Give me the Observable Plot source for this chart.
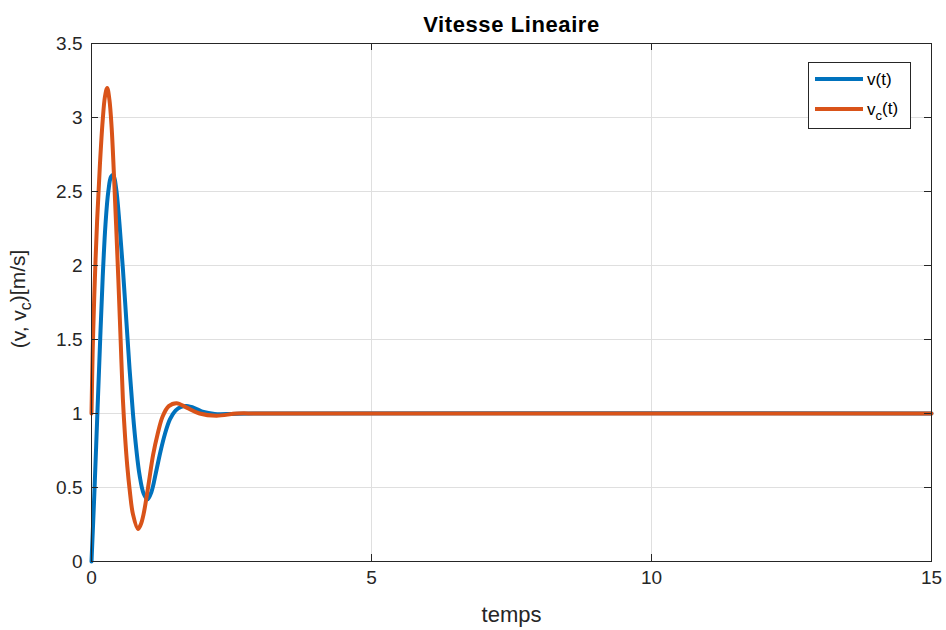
<!DOCTYPE html>
<html><head><meta charset="utf-8">
<script src="https://cdn.jsdelivr.net/npm/d3@7"></script>
<script src="https://cdn.jsdelivr.net/npm/@observablehq/plot@0.6"></script>
<style>body{margin:0;background:#fff;} svg{display:block}</style>
</head><body><div id="chart"></div>
<script>
const title = "Vitesse Lineaire";
const xLabel = "temps";
const xTicks = [0, 5, 10, 15];
const yTicks = [0, 0.5, 1, 1.5, 2, 2.5, 3, 3.5];

// v(t)
const tV = [0, 0.05, 0.10, 0.15, 0.20, 0.25, 0.30, 0.35, 0.39, 0.44, 0.50, 0.56, 0.62, 0.68, 0.74, 0.80, 0.86, 0.93, 1.00, 1.07, 1.15, 1.23, 1.31, 1.40, 1.50, 1.60, 1.70, 1.85, 2.00, 2.20, 2.50, 2.90, 15];
const vV = [0, 0.45, 0.95, 1.45, 1.92, 2.28, 2.50, 2.60, 2.61, 2.52, 2.28, 1.98, 1.64, 1.30, 1.00, 0.76, 0.58, 0.46, 0.42, 0.47, 0.60, 0.74, 0.86, 0.96, 1.02, 1.045, 1.05, 1.035, 1.01, 0.997, 0.997, 1.00, 1.00];

// vc(t)
const tVc = [0, 0.02, 0.05, 0.10, 0.15, 0.20, 0.24, 0.28, 0.32, 0.36, 0.40, 0.44, 0.48, 0.52, 0.56, 0.60, 0.64, 0.68, 0.74, 0.83, 0.88, 0.93, 1.01, 1.10, 1.18, 1.27, 1.38, 1.52, 1.70, 1.93, 2.23, 2.60, 3.00, 15];
const vVc = [1.00, 1.40, 1.80, 2.30, 2.68, 2.98, 3.14, 3.20, 3.12, 2.93, 2.62, 2.27, 1.90, 1.50, 1.10, 0.84, 0.64, 0.49, 0.32, 0.22, 0.25, 0.32, 0.50, 0.72, 0.86, 0.98, 1.05, 1.07, 1.04, 1.00, 0.985, 1.00, 1.00, 1.00];

const seriesBase = ["v", "v"];
const seriesSub = ["", "c"];
const seriesRest = ["(t)", "(t)"];
const colors = ["#0072BD", "#D95319"];

const rowsV = tV.map((t, i) => ({t, v: vV[i]}));
const rowsVc = tVc.map((t, i) => ({t, v: vVc[i]}));

const W = 946, H = 630, mL = 91, mR = 15, mT = 43, mB = 69;
const fw = W - mL - mR, fh = H - mT - mB, tk = 7;
const axisColor = "#262626";
const font = "'Liberation Sans', Arial, Helvetica, sans-serif";

const svg = Plot.plot({
  width: W, height: H,
  marginLeft: mL, marginRight: mR, marginTop: mT, marginBottom: mB,
  style: {fontFamily: font, fontSize: "19px", color: axisColor, background: "#fff"},
  x: {domain: [0, 15]},
  y: {domain: [0, 3.5]},
  marks: [
    Plot.gridX(xTicks, {stroke: "#dfdfdf", strokeOpacity: 1}),
    Plot.gridY(yTicks, {stroke: "#dfdfdf", strokeOpacity: 1}),
    Plot.line(rowsV, {x: "t", y: "v", stroke: colors[0], strokeWidth: 4, curve: "catmull-rom"}),
    Plot.line(rowsVc, {x: "t", y: "v", stroke: colors[1], strokeWidth: 4, curve: "catmull-rom"}),
    Plot.frame({stroke: axisColor}),
    Plot.ruleY(yTicks, {y: d => d, stroke: axisColor, insetRight: fw - tk}),
    Plot.ruleY(yTicks, {y: d => d, stroke: axisColor, insetLeft: fw - tk}),
    Plot.ruleX(xTicks, {x: d => d, stroke: axisColor, insetTop: fh - tk}),
    Plot.ruleX(xTicks, {x: d => d, stroke: axisColor, insetBottom: fh - tk}),
    Plot.axisX(xTicks, {tickSize: 0, tickPadding: 9, label: null, fontSize: 19, fill: axisColor}),
    Plot.axisY(yTicks, {tickSize: 0, tickPadding: 9, label: null, fontSize: 19, fill: axisColor, tickFormat: d => String(d)}),
    Plot.text([title], {text: d => d, frameAnchor: "top", lineAnchor: "middle", dy: -19, fontWeight: "bold", fontSize: 22, fill: "#000"}),
    Plot.text([xLabel], {text: d => d, frameAnchor: "bottom", lineAnchor: "middle", dy: 53, fontSize: 22, fill: axisColor})
  ]
});

const s = d3.select(svg);
// title letter spacing
s.selectAll("text").filter(function() { return this.textContent === title; }).attr("letter-spacing", "0.6px");

// y label with subscript
const yl = s.append("text")
  .attr("transform", `translate(26,${mT + fh / 2 - 3}) rotate(-90)`)
  .attr("text-anchor", "middle")
  .attr("font-family", font).attr("font-size", 21).attr("fill", axisColor);
yl.append("tspan").text("(v, v");
yl.append("tspan").attr("font-size", 16).attr("dy", "0.3em").text("c");
yl.append("tspan").attr("dy", "-0.3em").text(")[m/s]");

// legend
const lg = s.append("g").attr("text-anchor", "start");
lg.append("rect").attr("x", 808.5).attr("y", 62.5).attr("width", 102).attr("height", 66)
  .attr("fill", "#fff").attr("stroke", axisColor);
seriesBase.forEach((b, i) => {
  const y = 79 + i * 30;
  lg.append("line").attr("x1", 815).attr("x2", 863).attr("y1", y).attr("y2", y)
    .attr("stroke", colors[i]).attr("stroke-width", 4);
  const t = lg.append("text").attr("x", 867).attr("y", y).attr("dy", "0.35em")
    .attr("text-anchor", "start")
    .attr("font-family", font).attr("font-size", 17).attr("fill", "#000");
  t.append("tspan").text(b);
  if (seriesSub[i]) {
    t.append("tspan").attr("font-size", 13).attr("dy", "0.35em").text(seriesSub[i]);
    t.append("tspan").attr("dy", "-0.35em").text(seriesRest[i]);
  } else {
    t.append("tspan").text(seriesRest[i]);
  }
});

document.getElementById("chart").appendChild(svg);
</script></body></html>
